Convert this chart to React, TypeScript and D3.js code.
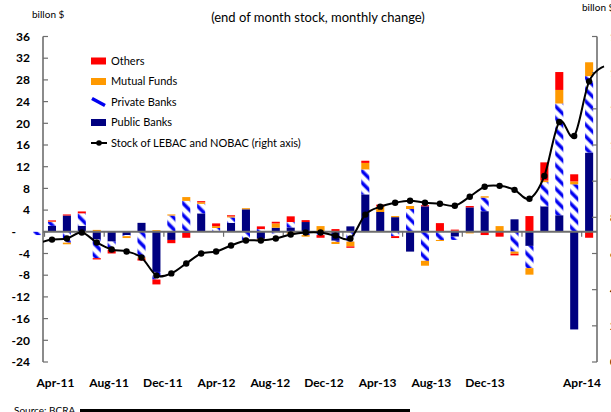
import React, { useEffect, useRef } from 'react';
import * as d3 from 'd3';

// monthly categories (Mar-11 .. May-14)
const months = [
  'Mar-11', 'Apr-11', 'May-11', 'Jun-11', 'Jul-11', 'Aug-11', 'Sep-11', 'Oct-11', 'Nov-11', 'Dec-11',
  'Jan-12', 'Feb-12', 'Mar-12', 'Apr-12', 'May-12', 'Jun-12', 'Jul-12', 'Aug-12', 'Sep-12', 'Oct-12', 'Nov-12', 'Dec-12',
  'Jan-13', 'Feb-13', 'Mar-13', 'Apr-13', 'May-13', 'Jun-13', 'Jul-13', 'Aug-13', 'Sep-13', 'Oct-13', 'Nov-13', 'Dec-13',
  'Jan-14', 'Feb-14', 'Mar-14', 'Apr-14', 'May-14',
];

// monthly change, billon $ (left axis)
const publicBanks = [
  0, 1.1, 3.0, 1.1, -1.35, -1.8, -0.6, 1.65, -7.4, -1.5,
  -0.2, 3.4, 0.1, 1.65, 4.15, -1.3, 0.75, 0.8, 1.8, 0, -1.65, 1.0,
  6.9, 3.65, 2.7, -3.65, 4.7, 0, -0.9, 4.5, 3.8, 0, 2.3, -2.6,
  4.7, 3.05, -18.0, 14.6, 0,
];
const privateBanks = [
  -0.6, 0.7, -2.0, 2.3, -3.5, -1.5, -0.2, -4.7, -1.4, 3.0,
  5.7, 1.75, 0.6, 1.0, -1.5, 0.5, -0.3, 1.0, -0.6, -0.6, -0.2, -1.8,
  4.6, 0, -0.8, 4.2, -5.35, -1.5, -0.6, 0, 2.5, 0, -3.65, -4.1,
  4.45, 20.6, 8.75, 14.1, 0,
];
const mutualFunds = [
  0, 0.1, -0.3, -0.3, 0.35, 0, -0.35, -0.25, 0.3, 0.2,
  0.7, 0.3, 0.35, 0.2, 0.2, -0.25, 0.8, -0.35, -0.3, 1.05, -0.4, -0.9,
  1.2, 1.0, 0.2, 0.55, -0.9, -0.2, 0.2, -0.3, 0.25, 1.05, -0.4, -1.2,
  0.3, 2.5, 0.55, 2.55, 0,
];
const others = [
  0, 0.2, 0.2, 0.35, -0.25, -0.7, 0.1, -0.35, -0.9, -0.6,
  -0.9, 0.2, 0.5, 0.2, 0, 0.5, 0.3, 1.05, 0.35, -0.5, 0.5, -0.25,
  0.4, 0.35, -0.35, 0, 0.2, 1.6, 0.2, 0.25, -0.6, -0.9, -0.3, 2.9,
  3.35, 3.3, 1.3, -1.1, 0,
];

// stock of LEBAC and NOBAC (right axis)
const stockLebacNobac = [
  65.5, 67.7, 68.3, 71.6, 66.1, 62.2, 61.1, 57.8, 47.9, 49.0,
  54.5, 60.0, 61.1, 64.4, 67.2, 67.2, 68.3, 70.5, 71.6, 71.6, 69.9, 68.3,
  81.5, 85.9, 88.1, 89.2, 88.1, 87.5, 86.4, 91.4, 96.9, 97.4, 95.2, 90.3,
  102.9, 132.7, 125.0, 155.2, 163.5,
];

const leftTicks = [-24, -20, -16, -12, -8, -4, 0, 4, 8, 12, 16, 20, 24, 28, 32, 36];
const rightTicks = [0, 20, 40, 60, 80, 100, 120, 140, 160, 180];
const axisLabels = ['Apr-11', 'Aug-11', 'Dec-11', 'Apr-12', 'Aug-12', 'Dec-12', 'Apr-13', 'Aug-13', 'Dec-13', 'Apr-14'];

const legendItems = ['Others', 'Mutual Funds', 'Private Banks', 'Public Banks', 'Stock of LEBAC and NOBAC (right axis)'];

const App = () => {
  const ref = useRef<SVGSVGElement>(null);

  useEffect(() => {
    const svg = d3.select(ref.current);
    svg.selectAll('*').remove();

    const W = 611, H = 412;
    const left = 43, right = 597, top = 36.5, bottom = 362;
    const font = 'Lato, "Open Sans", sans-serif';
    const axisColor = '#6e6e6e';

    const rows = months.map((m, i) => ({
      month: m,
      public: publicBanks[i],
      private: privateBanks[i],
      mutual: mutualFunds[i],
      others: others[i],
    }));
    const keys = ['public', 'private', 'mutual', 'others'];
    const fills: Record<string, string> = {
      public: '#000080',
      private: 'url(#hatch)',
      mutual: '#ff9900',
      others: '#ff0000',
    };

    const x = d3.scaleBand().domain(months).range([29.6, 611.5]).paddingInner(0.46).paddingOuter(0.23);
    const bw = x.bandwidth();
    const gap = x.step() - bw;
    const y = d3.scaleLinear().domain([-24, 36]).range([bottom, top]);
    const yR = d3.scaleLinear().domain([0, 180]).range([bottom, top]);

    // hatch for private banks
    const defs = svg.append('defs');
    const pat = defs.append('pattern')
      .attr('id', 'hatch')
      .attr('patternUnits', 'userSpaceOnUse')
      .attr('width', 8.3)
      .attr('height', 8.3)
      .attr('patternTransform', 'rotate(-45)');
    pat.append('rect').attr('width', 8.3).attr('height', 8.3).attr('fill', '#fff');
    pat.append('rect').attr('x', 0).attr('width', 4.4).attr('height', 8.3).attr('fill', '#8080ff');
    pat.append('rect').attr('x', 0.9).attr('width', 2.6).attr('height', 8.3).attr('fill', '#0000f0');

    defs.append('clipPath').attr('id', 'lineClip')
      .append('rect').attr('x', left).attr('y', 0).attr('width', W - left).attr('height', H);

    // stacked bars
    const stacked = d3.stack<any>().keys(keys).offset(d3.stackOffsetDiverging)(rows);
    stacked.forEach(series => {
      svg.append('g')
        .selectAll('rect')
        .data(series.filter(d => Math.abs(d[1] - d[0]) > 0))
        .join('rect')
        .attr('x', d => x(d.data.month)!)
        .attr('width', bw)
        .attr('y', d => y(Math.max(d[0], d[1])))
        .attr('height', d => Math.abs(y(d[0]) - y(d[1])))
        .attr('fill', fills[series.key]);
    });

    // left axis
    const gl = svg.append('g');
    gl.append('line')
      .attr('x1', left).attr('x2', left).attr('y1', top).attr('y2', bottom)
      .attr('stroke', axisColor).attr('stroke-width', 1.6);
    gl.selectAll('.tk').data(leftTicks).join('line')
      .attr('x1', left).attr('x2', left + 5)
      .attr('y1', d => y(d)).attr('y2', d => y(d))
      .attr('stroke', axisColor).attr('stroke-width', 1.2);
    gl.selectAll('text').data(leftTicks).join('text')
      .attr('x', d => (d === 0 ? 16 : 30))
      .attr('y', d => y(d))
      .attr('dy', '0.35em')
      .attr('text-anchor', 'end')
      .attr('font-family', font)
      .attr('font-weight', 'bold')
      .attr('font-size', 12)
      .attr('fill', '#000')
      .text(d => (d === 0 ? '-' : String(d)));

    // right axis (its labels fall just past the picture's edge)
    const gr = svg.append('g');
    gr.append('line')
      .attr('x1', right).attr('x2', right).attr('y1', top).attr('y2', bottom)
      .attr('stroke', axisColor).attr('stroke-width', 1.6);
    gr.selectAll('.tk').data(rightTicks).join('line')
      .attr('x1', right - 5).attr('x2', right)
      .attr('y1', d => yR(d)).attr('y2', d => yR(d))
      .attr('stroke', axisColor).attr('stroke-width', 1.2);
    gr.selectAll('text').data(rightTicks).join('text')
      .attr('x', 610)
      .attr('y', d => yR(d))
      .attr('dy', '0.35em')
      .attr('font-family', font)
      .attr('font-weight', 'bold')
      .attr('font-size', 12)
      .text(d => String(d));

    // category axis along zero
    svg.append('line')
      .attr('x1', left).attr('x2', right).attr('y1', y(0)).attr('y2', y(0))
      .attr('stroke', axisColor).attr('stroke-width', 2);
    svg.append('g').selectAll('line').data(axisLabels).join('line')
      .attr('x1', d => x(d)! - gap / 2).attr('x2', d => x(d)! - gap / 2)
      .attr('y1', y(0)).attr('y2', y(0) + 5)
      .attr('stroke', axisColor).attr('stroke-width', 1.2);

    const labelX = d3.scaleLinear().domain([0, 8, 9]).range([55.5, 485, 582]);
    svg.append('g').selectAll('text').data(axisLabels).join('text')
      .attr('x', (d, i) => labelX(i))
      .attr('y', 387)
      .attr('text-anchor', 'middle')
      .attr('font-family', font)
      .attr('font-weight', 'bold')
      .attr('font-size', 12)
      .text(d => d);

    // stock line
    const pts = stockLebacNobac.map((v, i) => ({ cx: x(months[i])! + bw / 2, v }));
    const line = d3.line<any>()
      .x(d => d.cx)
      .y(d => yR(d.v))
      .curve(d3.curveCardinal.tension(0));
    svg.append('path')
      .datum(pts)
      .attr('d', line)
      .attr('clip-path', 'url(#lineClip)')
      .attr('fill', 'none')
      .attr('stroke', '#000')
      .attr('stroke-width', 2);
    svg.append('g').selectAll('circle')
      .data(pts.filter(p => p.cx > left && p.cx < right))
      .join('circle')
      .attr('cx', d => d.cx)
      .attr('cy', d => yR(d.v))
      .attr('r', 3.2)
      .attr('fill', '#000');

    // legend
    const lg = svg.append('g').attr('font-family', font).attr('font-size', 11);
    const legendY = d3.scaleLinear().domain([0, 4]).range([61, 143]);
    legendItems.forEach((name, i) => {
      const cy = legendY(i);
      if (i === 0 || i === 1 || i === 3) {
        lg.append('rect')
          .attr('x', 91).attr('y', cy - 3.5).attr('width', 15).attr('height', 7)
          .attr('fill', i === 0 ? fills.others : i === 1 ? fills.mutual : fills.public);
      } else if (i === 2) {
        lg.append('line')
          .attr('x1', 92).attr('y1', cy - 3.5).attr('x2', 105).attr('y2', cy + 3.5)
          .attr('stroke', '#0000f0').attr('stroke-width', 3.5);
      } else {
        lg.append('line')
          .attr('x1', 91).attr('x2', 107).attr('y1', cy).attr('y2', cy)
          .attr('stroke', '#000').attr('stroke-width', 2);
        lg.append('circle').attr('cx', 99).attr('cy', cy).attr('r', 2.8).attr('fill', '#000');
      }
      lg.append('text')
        .attr('x', 111).attr('y', cy).attr('dy', '0.35em')
        .text(name);
    });

    // titles and notes
    svg.append('text')
      .attr('x', 318).attr('y', 22)
      .attr('text-anchor', 'middle')
      .attr('font-family', font).attr('font-size', 13)
      .text('(end of month stock, monthly change)');
    svg.append('text')
      .attr('x', 32).attr('y', 18)
      .attr('font-family', font).attr('font-size', 10)
      .text('billon $');
    svg.append('text')
      .attr('x', 582).attr('y', 11)
      .attr('font-family', font).attr('font-size', 10)
      .text('billon $');
    svg.append('text')
      .attr('x', 14).attr('y', 414)
      .attr('font-family', font).attr('font-size', 10)
      .text('Source: BCRA');
    svg.append('rect')
      .attr('x', 80).attr('y', 409).attr('width', 330).attr('height', 3)
      .attr('fill', '#000');
  }, []);

  return (
    <svg
      ref={ref}
      width={611}
      height={412}
      style={{ position: 'absolute', left: 0, top: 0, background: '#fff' }}
    />
  );
};

export default App;
